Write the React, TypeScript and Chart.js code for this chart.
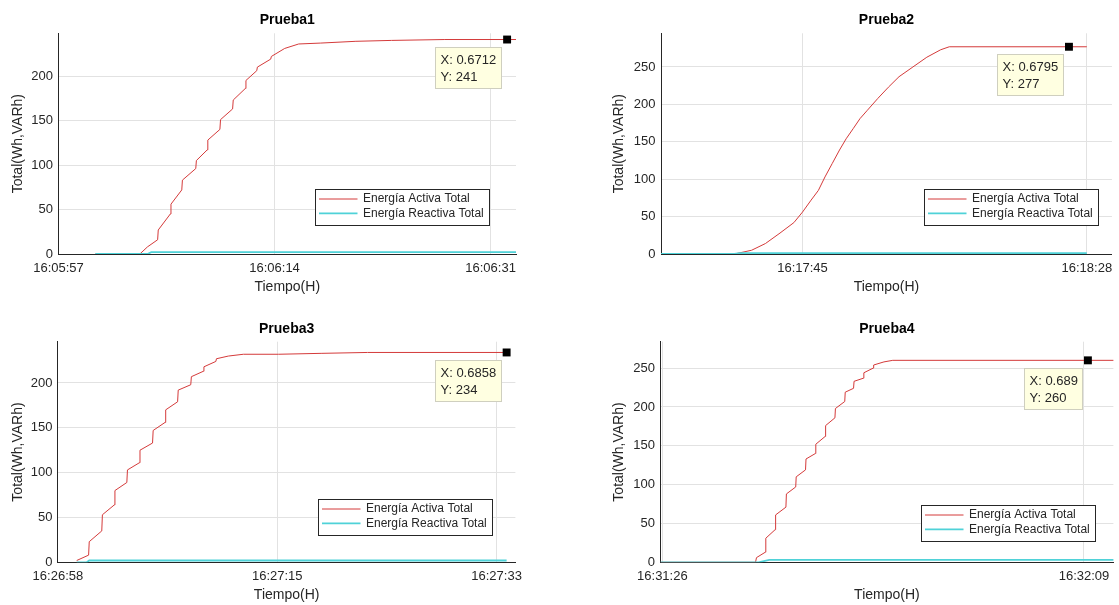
import React, { useEffect, useRef } from 'react';
import { Chart, registerables } from 'chart.js';

Chart.register(...registerables);

const FONT = '"Liberation Sans", Arial, Helvetica, sans-serif';
const RED = '#d43a3a';
const CYAN = '#4fd2d8';
const TEXT = '#262626';
const GRID = '#e2e2e2';

const SERIES_LABELS = ['Energía Activa Total', 'Energía Reactiva Total'];
const TITLES = ['Prueba1', 'Prueba2', 'Prueba3', 'Prueba4'];
const X_TITLE = 'Tiempo(H)';
const Y_TITLE = 'Total(Wh,VARh)';

// ---- Prueba1 (seconds from 16:05:57) ----
const p1ActT = [2.9, 6.4, 7.0, 7.8, 7.85, 8.8, 8.85, 9.7, 9.75, 10.8, 10.85, 11.7, 11.75, 12.7, 12.75, 13.7, 13.75, 14.7, 14.75, 15.6, 15.65, 16.7, 16.75, 17.8, 18.9, 20.6, 23.4, 26.2, 30.4, 36.0];
const p1Act = [0, 0, 8, 16, 27, 45, 56, 72, 83, 96, 105, 117, 128, 140, 151, 163, 173, 186, 195, 206, 210, 219, 222, 231, 236, 237, 239, 240, 241, 241];
const p1ReaT = [2.9, 7.0, 7.3, 36.0];
const p1Rea = [0, 0, 2, 2];
const p1TickPos = [0, 17, 34];
const p1TickLabels = ['16:05:57', '16:06:14', '16:06:31'];
const p1YTicks = [0, 50, 100, 150, 200];
const p1Tip = { x: 35.3, y: 241, text: ['X: 0.6712', 'Y: 241'] };

// ---- Prueba2 (seconds from 16:17:45) ----
const p2ActT = [-21.4, -10.3, -7.7, -5.6, -3.4, -1.3, 0, 1.3, 2.4, 3.4, 4.5, 5.6, 6.6, 7.7, 8.7, 9.8, 11.4, 13.0, 14.6, 16.7, 18.8, 20.9, 22.2, 43];
const p2Act = [0, 0, 5, 14, 28, 42, 56, 72, 85, 103, 121, 139, 154, 168, 181, 192, 208, 223, 237, 250, 263, 273, 277, 277];
const p2ReaT = [-21.4, -10.3, -9.5, 43];
const p2Rea = [0, 0, 1, 1];
const p2TickPos = [0, 43];
const p2TickLabels = ['16:17:45', '16:18:28'];
const p2YTicks = [0, 50, 100, 150, 200, 250];
const p2Tip = { x: 40.3, y: 277, text: ['X: 0.6795', 'Y: 277'] };

// ---- Prueba3 (seconds from 16:26:58) ----
const p3ActT = [1.5, 2.45, 2.5, 3.5, 3.55, 4.5, 4.55, 5.5, 5.55, 6.5, 6.55, 7.55, 7.6, 8.55, 8.6, 9.55, 9.6, 10.6, 10.65, 11.6, 11.65, 12.6, 12.65, 13.6, 14.8, 17.6, 21.0, 24.7, 35.8];
const p3Act = [2, 8, 23, 35, 53, 64, 80, 89, 103, 111, 125, 133, 147, 156, 170, 179, 192, 198, 207, 213, 218, 224, 227, 230, 232, 232, 233, 234, 234];
const p3ReaT = [1.5, 2.3, 2.5, 35.8];
const p3Rea = [0, 0, 2, 2];
const p3TickPos = [0, 17.5, 35];
const p3TickLabels = ['16:26:58', '16:27:15', '16:27:33'];
const p3YTicks = [0, 50, 100, 150, 200];
const p3Tip = { x: 35.8, y: 234, text: ['X: 0.6858', 'Y: 234'] };

// ---- Prueba4 (seconds from 16:31:26) ----
const p4ActT = [-0.2, 9.5, 9.6, 10.5, 10.55, 11.5, 11.55, 12.6, 12.65, 13.6, 13.65, 14.6, 14.65, 15.6, 15.65, 16.6, 16.65, 17.6, 17.65, 18.6, 18.65, 19.5, 19.55, 20.5, 20.55, 21.5, 21.55, 22.6, 23.5, 46.5];
const p4Act = [0, 0, 6, 13, 31, 42, 61, 71, 88, 97, 110, 119, 133, 140, 152, 162, 176, 186, 198, 207, 219, 224, 233, 237, 244, 250, 254, 258, 260, 260];
const p4ReaT = [-0.2, 9.8, 10.9, 46.5];
const p4Rea = [0, 0, 3, 3];
const p4TickPos = [0, 43];
const p4TickLabels = ['16:31:26', '16:32:09'];
const p4YTicks = [0, 50, 100, 150, 200, 250];
const p4Tip = { x: 43.4, y: 260, text: ['X: 0.689', 'Y: 260'] };

const zip = (xs: number[], ys: number[]) => xs.map((x, i) => ({ x, y: ys[i] }));

type PanelCfg = {
  left: number; top: number; w: number; h: number;
  area: { left: number; right: number; top: number; bottom: number };
  titleY: number; yTitleX: number;
  xMin: number; xMax: number; yMax: number;
  title: string;
  actT: number[]; act: number[]; reaT: number[]; rea: number[];
  tickPos: number[]; tickLabels: string[]; yTicks: number[];
  tip: { x: number; y: number; text: string[] };
  legend: { x: number; y: number };
};

const PANELS: PanelCfg[] = [
  {
    left: 0, top: 0, w: 560, h: 300,
    area: { left: 58.5, right: 516, top: 33.3, bottom: 254 },
    titleY: 20, yTitleX: 18.6, xMin: 0, xMax: 36, yMax: 248, title: TITLES[0],
    actT: p1ActT, act: p1Act, reaT: p1ReaT, rea: p1Rea,
    tickPos: p1TickPos, tickLabels: p1TickLabels, yTicks: p1YTicks, tip: p1Tip,
    legend: { x: 315, y: 189 },
  },
  {
    left: 560, top: 0, w: 559, h: 300,
    area: { left: 101, right: 559, top: 33.3, bottom: 254 },
    titleY: 20, yTitleX: 58.9, xMin: -21.4, xMax: 46.8, yMax: 295, title: TITLES[1],
    actT: p2ActT, act: p2Act, reaT: p2ReaT, rea: p2Rea,
    tickPos: p2TickPos, tickLabels: p2TickLabels, yTicks: p2YTicks, tip: p2Tip,
    legend: { x: 363.6, y: 189.3 },
  },
  {
    left: 0, top: 300, w: 560, h: 305,
    area: { left: 57.9, right: 515.4, top: 41.7, bottom: 262.3 },
    titleY: 29, yTitleX: 18.6, xMin: 0, xMax: 36.5, yMax: 246, title: TITLES[2],
    actT: p3ActT, act: p3Act, reaT: p3ReaT, rea: p3Rea,
    tickPos: p3TickPos, tickLabels: p3TickLabels, yTicks: p3YTicks, tip: p3Tip,
    legend: { x: 317.9, y: 199 },
  },
  {
    left: 560, top: 300, w: 559, h: 305,
    area: { left: 100.4, right: 559, top: 41.7, bottom: 262.3 },
    titleY: 29, yTitleX: 58.9, xMin: -0.2, xMax: 46.0, yMax: 284, title: TITLES[3],
    actT: p4ActT, act: p4Act, reaT: p4ReaT, rea: p4Rea,
    tickPos: p4TickPos, tickLabels: p4TickLabels, yTicks: p4YTicks, tip: p4Tip,
    legend: { x: 360.7, y: 205 },
  },
];

const overlayPlugin = {
  id: 'overlay',
  afterDraw(chart: any, _args: any, opts: any) {
    const ctx: CanvasRenderingContext2D = chart.ctx;
    ctx.save();
    // Legend box
    const lg = opts.legend;
    const lw = 174, lh = 36;
    const lx = Math.round(lg.x) + 0.5, ly = Math.round(lg.y) + 0.5;
    ctx.fillStyle = '#ffffff';
    ctx.fillRect(lx, ly, lw, lh);
    ctx.strokeStyle = TEXT;
    ctx.lineWidth = 1;
    ctx.strokeRect(lx, ly, lw, lh);
    const colors = [RED, CYAN];
    const widths = [1, 1.8];
    ctx.font = `12px ${FONT}`;
    ctx.textBaseline = 'middle';
    ctx.textAlign = 'left';
    SERIES_LABELS.forEach((label, i) => {
      const yy = ly + 9.5 + i * 14.4;
      ctx.strokeStyle = colors[i];
      ctx.lineWidth = widths[i];
      ctx.beginPath();
      ctx.moveTo(lx + 3.5, yy);
      ctx.lineTo(lx + 42, yy);
      ctx.stroke();
      ctx.fillStyle = TEXT;
      ctx.fillText(label, lx + 47.5, yy);
    });
    // Data tip
    const tip = opts.tip;
    const px = chart.scales.x.getPixelForValue(tip.x);
    const py = chart.scales.y.getPixelForValue(tip.y);
    ctx.font = `13px ${FONT}`;
    const tw = Math.max(...tip.text.map((t: string) => ctx.measureText(t).width));
    const bw = Math.round(tw + 10);
    const bh = 41;
    const bx = Math.round(px - 6 - bw) + 0.5;
    const by = Math.round(py + 7.5) + 0.5;
    ctx.fillStyle = '#ffffe1';
    ctx.fillRect(bx, by, bw, bh);
    ctx.strokeStyle = '#cfcfbf';
    ctx.lineWidth = 1;
    ctx.strokeRect(bx, by, bw, bh);
    ctx.fillStyle = TEXT;
    tip.text.forEach((t: string, i: number) => {
      ctx.fillText(t, bx + 5, by + 13.3 + i * 16.8);
    });
    ctx.restore();
  },
};

function Panel({ cfg }: { cfg: PanelCfg }) {
  const ref = useRef<HTMLCanvasElement>(null);
  useEffect(() => {
    const a = cfg.area;
    const xTitlePadBottom = cfg.h - (a.bottom + 33.3) - 8.4;
    const chart = new Chart(ref.current as HTMLCanvasElement, {
      type: 'line',
      data: {
        datasets: [
          {
            type: 'scatter',
            label: 'tip',
            data: [{ x: cfg.tip.x, y: cfg.tip.y }],
            pointStyle: 'rect',
            pointRadius: 5.6,
            backgroundColor: '#000',
            borderColor: '#000',
            borderWidth: 0,
            showLine: false,
            clip: false,
          } as any,
          {
            label: SERIES_LABELS[1],
            data: zip(cfg.reaT, cfg.rea),
            borderColor: CYAN,
            borderWidth: 1.8,
            pointRadius: 0,
            tension: 0,
            fill: false,
          },
          {
            label: SERIES_LABELS[0],
            data: zip(cfg.actT, cfg.act),
            borderColor: RED,
            borderWidth: 1,
            pointRadius: 0,
            tension: 0,
            fill: false,
          },
        ],
      },
      options: {
        animation: false,
        responsive: false,
        devicePixelRatio: 1,
        events: [],
        layout: { padding: { left: 0, top: 0, right: cfg.w - a.right, bottom: 0 } },
        plugins: {
          legend: { display: false },
          tooltip: { enabled: false },
          title: {
            display: true,
            text: cfg.title,
            fullSize: false,
            color: '#000',
            font: { family: FONT, size: 14, weight: 'bold', lineHeight: 1.2 },
            padding: { top: cfg.titleY - 8.4, bottom: a.top - cfg.titleY - 8.4 },
          },
          overlay: { legend: cfg.legend, tip: cfg.tip },
        } as any,
        scales: {
          x: {
            type: 'linear',
            min: cfg.xMin,
            max: cfg.xMax,
            bounds: 'data',
            afterBuildTicks: (s: any) => {
              s.ticks = cfg.tickPos.map((v) => ({ value: v }));
            },
            afterFit: (s: any) => {
              s.height = cfg.h - a.bottom;
            },
            grid: { color: GRID, drawTicks: false, lineWidth: 1 },
            border: { color: TEXT, width: 1 },
            ticks: {
              autoSkip: false,
              maxRotation: 0,
              padding: 6.5,
              color: TEXT,
              font: { family: FONT, size: 13, lineHeight: 1.2 },
              callback: (_v: any, i: number) => cfg.tickLabels[i],
            },
            title: {
              display: true,
              text: X_TITLE,
              color: TEXT,
              font: { family: FONT, size: 14, lineHeight: 1.2 },
              padding: { top: 0, bottom: xTitlePadBottom },
            },
          } as any,
          y: {
            type: 'linear',
            min: 0,
            max: cfg.yMax,
            bounds: 'data',
            afterBuildTicks: (s: any) => {
              s.ticks = cfg.yTicks.map((v) => ({ value: v }));
            },
            afterFit: (s: any) => {
              s.width = a.left;
            },
            grid: { color: GRID, drawTicks: false, lineWidth: 1 },
            border: { color: TEXT, width: 1 },
            ticks: {
              padding: 5.5,
              color: TEXT,
              font: { family: FONT, size: 13, lineHeight: 1.2 },
              callback: (v: any) => String(v),
            },
            title: {
              display: true,
              text: Y_TITLE,
              color: TEXT,
              font: { family: FONT, size: 14, lineHeight: 1.2 },
              padding: { top: cfg.yTitleX - 8.4, bottom: 0 },
            },
          } as any,
        },
      },
      plugins: [overlayPlugin as any],
    });
    return () => chart.destroy();
  }, [cfg]);
  return (
    <canvas
      ref={ref}
      width={cfg.w}
      height={cfg.h}
      style={{ position: 'absolute', left: cfg.left, top: cfg.top, width: cfg.w, height: cfg.h }}
    />
  );
}

export default function App() {
  return (
    <div style={{ position: 'absolute', left: 0, top: 0, width: 1119, height: 605, background: '#fff', overflow: 'hidden' }}>
      {PANELS.map((p, i) => (
        <Panel key={i} cfg={p} />
      ))}
    </div>
  );
}
